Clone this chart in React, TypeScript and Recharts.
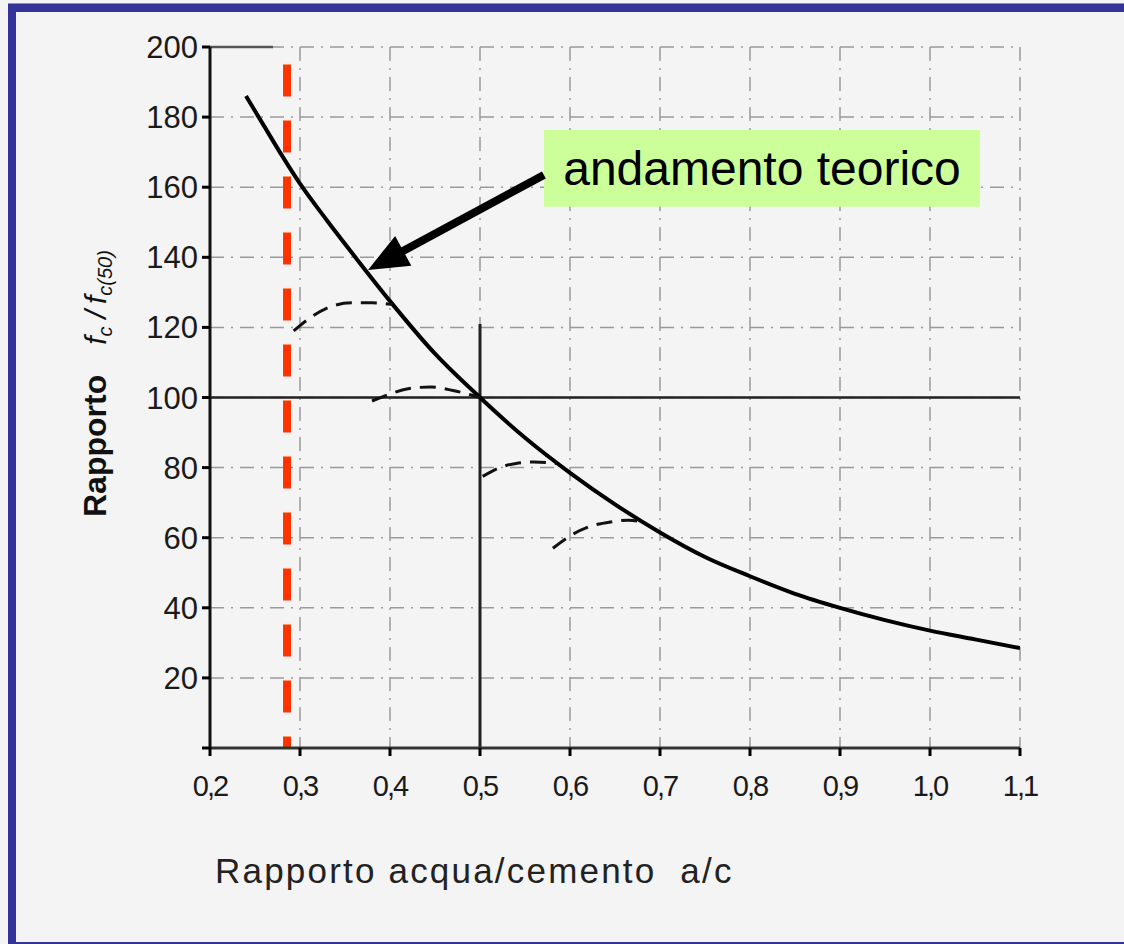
import React from 'react'
import {
  LineChart, Line, XAxis, YAxis, CartesianGrid, ReferenceLine, ReferenceArea,
} from 'recharts'

// curva teorica f_c / f_c(50) vs a/c
const curveX = [0.24, 0.26, 0.28, 0.3, 0.33, 0.36, 0.4, 0.45, 0.5, 0.55, 0.6, 0.65, 0.7, 0.75, 0.8, 0.85, 0.9, 0.95, 1.0, 1.05, 1.1]
const curveY = [186, 177.5, 169, 161, 150.5, 140.5, 127.5, 112.5, 100, 88.5, 78.5, 69.5, 61.5, 54.5, 49, 44, 40, 36.5, 33.5, 31, 28.5]

// archi tratteggiati (andamento reale)
const arc1X = [0.293, 0.31, 0.33, 0.357, 0.38, 0.403]
const arc1Y = [119, 122.5, 125.5, 127, 127, 126.5]
const arc2X = [0.38, 0.395, 0.42, 0.445, 0.47, 0.5]
const arc2Y = [99, 100.5, 102.5, 103, 102, 100]
const arc3X = [0.503, 0.52, 0.54, 0.56, 0.585]
const arc3Y = [77.5, 79.8, 81.2, 81.6, 81.2]
const arc4X = [0.581, 0.6, 0.62, 0.645, 0.665, 0.68]
const arc4Y = [57, 60.5, 63, 64.5, 65, 64.5]

const xTicks = [0.2, 0.3, 0.4, 0.5, 0.6, 0.7, 0.8, 0.9, 1.0, 1.1]
const yTicks = [0, 20, 40, 60, 80, 100, 120, 140, 160, 180, 200]

const redLineX = 0.2856
const redLineTop = 195
const arrowTail = { x: 0.571, y: 163.5 }
const arrowTip = { x: 0.3756, y: 136.4 }
const boxX = [0.5711, 1.0556]
const boxY = [154.4, 176.3]

const toPts = (xs: number[], ys: number[]) => xs.map((x, i) => ({ x, y: ys[i] }))

const FONT = '"Liberation Sans", Arial, sans-serif'

const Arrow = (props: any) => {
  const { x1, y1, x2, y2 } = props
  const dx = x2 - x1, dy = y2 - y1
  const len = Math.sqrt(dx * dx + dy * dy)
  const ux = dx / len, uy = dy / len
  const headLen = 40, headW = 17
  const bx = x2 - ux * headLen, by = y2 - uy * headLen
  const px = -uy, py = ux
  return (
    <g>
      <line x1={x1} y1={y1} x2={bx + ux * 4} y2={by + uy * 4} stroke="#000" strokeWidth={8} />
      <polygon
        points={`${x2},${y2} ${bx + px * headW},${by + py * headW} ${bx - px * headW},${by - py * headW}`}
        fill="#000"
      />
    </g>
  )
}

const XTick = ({ x, y, payload }: any) => (
  <text x={x} y={y + 36} textAnchor="middle" fill="#1a1a1a"
    style={{ fontFamily: FONT, fontSize: 29, letterSpacing: -2 }}>
    {payload.value.toFixed(1).replace('.', ',')}
  </text>
)

const YTick = ({ x, y, payload }: any) =>
  payload.value === 0 ? null : (
    <text x={x - 2} y={y + 11} textAnchor="end" fill="#1a1a1a"
      style={{ fontFamily: FONT, fontSize: 31 }}>
      {payload.value}
    </text>
  )

export default function App() {
  return (
    <div style={{ position: 'absolute', left: 0, top: 0, width: 1124, height: 944, background: '#f4f4f4', overflow: 'hidden' }}>
      {/* cornice blu */}
      <div style={{ position: 'absolute', left: 8, top: 3, width: 1116, height: 1, background: '#8a8ac4' }} />
      <div style={{ position: 'absolute', left: 8, top: 4, width: 1116, height: 8, background: '#333399' }} />
      <div style={{ position: 'absolute', left: 8, top: 4, width: 8, height: 940, background: '#333399' }} />
      <div style={{ position: 'absolute', left: 8, top: 942, width: 1116, height: 2, background: '#333399' }} />

      <div style={{ position: 'absolute', left: 0, top: 0 }}>
        <LineChart width={1124} height={944} margin={{ top: 47, right: 104, bottom: 136, left: 0 }}>
          <CartesianGrid stroke="#999" strokeWidth={1.5} strokeDasharray="14 7 2 7" />
          <XAxis
            dataKey="x"
            type="number"
            domain={[0.2, 1.1]}
            ticks={xTicks}
            height={60}
            tickSize={8}
            tickMargin={4}
            tick={<XTick />}
            axisLine={{ stroke: '#333', strokeWidth: 3 }}
            tickLine={{ stroke: '#000', strokeWidth: 3 }}
            allowDataOverflow
          />
          <YAxis
            type="number"
            domain={[0, 200]}
            ticks={yTicks}
            width={210}
            tickSize={8}
            tickMargin={2}
            tick={<YTick />}
            axisLine={{ stroke: '#111', strokeWidth: 3 }}
            tickLine={{ stroke: '#000', strokeWidth: 3 }}
          />

          <ReferenceLine y={100} stroke="#222" strokeWidth={2.5} />
          <ReferenceLine segment={[{ x: 0.5, y: 0 }, { x: 0.5, y: 121 }]} stroke="#222" strokeWidth={3} />
          <ReferenceLine segment={[{ x: 0.2, y: 200 }, { x: 0.27, y: 200 }]} stroke="#555" strokeWidth={2.5} />

          <ReferenceLine
            segment={[{ x: redLineX, y: redLineTop }, { x: redLineX, y: 0 }]}
            stroke="#ff3300"
            strokeWidth={8}
            strokeDasharray="32 24"
          />

          <Line data={toPts(curveX, curveY)} dataKey="y" type="monotone" stroke="#000" strokeWidth={4} dot={false} isAnimationActive={false} />
          <Line data={toPts(arc1X, arc1Y)} dataKey="y" type="monotone" stroke="#111" strokeWidth={3} strokeDasharray="16 9" dot={false} isAnimationActive={false} />
          <Line data={toPts(arc2X, arc2Y)} dataKey="y" type="monotone" stroke="#111" strokeWidth={3} strokeDasharray="16 9" dot={false} isAnimationActive={false} />
          <Line data={toPts(arc3X, arc3Y)} dataKey="y" type="monotone" stroke="#111" strokeWidth={3} strokeDasharray="16 9" dot={false} isAnimationActive={false} />
          <Line data={toPts(arc4X, arc4Y)} dataKey="y" type="monotone" stroke="#111" strokeWidth={3} strokeDasharray="16 9" dot={false} isAnimationActive={false} />

          <ReferenceLine segment={[arrowTail, arrowTip]} shape={Arrow} />
          <ReferenceArea
            x1={boxX[0]}
            x2={boxX[1]}
            y1={boxY[0]}
            y2={boxY[1]}
            fill="#ccff99"
            fillOpacity={1}
            stroke="none"
            label={{ value: 'andamento teorico', position: 'center', fontSize: 48, fill: '#000', fontFamily: FONT }}
          />
        </LineChart>
      </div>

      {/* titoli assi */}
      <svg width={1124} height={944} style={{ position: 'absolute', left: 0, top: 0, pointerEvents: 'none' }}>
        <text transform="rotate(-90)" x={-517} y={106} fill="#111" style={{ fontFamily: FONT }}>
          <tspan fontWeight="bold" style={{ fontSize: 32 }}>Rapporto</tspan>
          <tspan dx={30} fontStyle="italic" style={{ fontSize: 30 }}>f</tspan>
          <tspan fontStyle="italic" dy={6} style={{ fontSize: 20 }}>c</tspan>
          <tspan fontStyle="italic" dy={-6} dx={8} style={{ fontSize: 30 }}>/</tspan>
          <tspan fontStyle="italic" dx={6} style={{ fontSize: 30 }}>f</tspan>
          <tspan fontStyle="italic" dy={6} style={{ fontSize: 20 }}>c(50)</tspan>
        </text>
        <text x={215} y={883} fill="#222" style={{ fontFamily: FONT, fontSize: 35, letterSpacing: 2.2 }}>
          Rapporto acqua/cemento{'\u00a0\u00a0'}a/c
        </text>
      </svg>
    </div>
  )
}
